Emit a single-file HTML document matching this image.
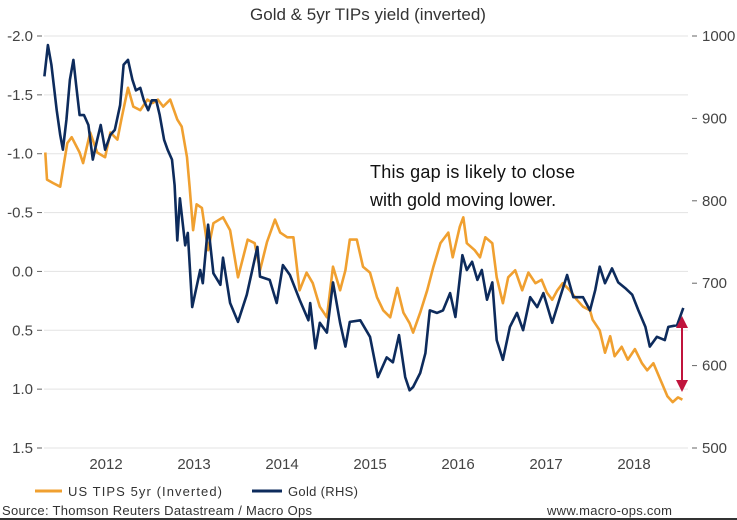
<!DOCTYPE html>
<html><head><meta charset="utf-8">
<style>
html,body{margin:0;padding:0;background:#fff;}
svg{display:block;font-family:"Liberation Sans",Arial,sans-serif;}
</style></head>
<body>
<svg id="chart" width="737" height="520" viewBox="0 0 737 520">
<text x="368" y="20" text-anchor="middle" font-size="17" fill="#333">Gold &amp; 5yr TIPs yield (inverted)</text>
<g id="grid"></g>
<g id="laxis"></g>
<g id="raxis"></g>
<g id="xaxis"></g>
<g id="series"></g>
<g>
<text x="370" y="178" font-size="18" fill="#111" textLength="205">This gap is likely to close</text>
<text x="370" y="206" font-size="18" fill="#111">with gold moving lower.</text>
</g>
<g>
<line x1="682" y1="326" x2="682" y2="384" stroke="#c0143c" stroke-width="2"/>
<polygon points="682,316 676,328 688,328" fill="#c0143c"/>
<polygon points="682,392 676,380 688,380" fill="#c0143c"/>
</g>
<g>
<line x1="35" y1="491" x2="62" y2="491" stroke="#f0a030" stroke-width="3"/>
<text x="68" y="496" font-size="13" fill="#333" textLength="154">US TIPS 5yr (Inverted)</text>
<line x1="252" y1="491" x2="282" y2="491" stroke="#0d2b5c" stroke-width="3"/>
<text x="288" y="496" font-size="13" fill="#333" textLength="70">Gold (RHS)</text>
</g>
<text x="2" y="515" font-size="13" fill="#333" textLength="310">Source: Thomson Reuters Datastream / Macro Ops</text>
<text x="547" y="515" font-size="13" fill="#333" textLength="125">www.macro-ops.com</text>
<rect x="0" y="518" width="737" height="2" fill="#333"/>
</svg>
<script>
const leftTicks = [-2.0,-1.5,-1.0,-0.5,0.0,0.5,1.0,1.5];
const leftTickLabels = ["-2.0","-1.5","-1.0","-0.5","0.0","0.5","1.0","1.5"];
const rightTicks = [1000,900,800,700,600,500];
const years = [2012,2013,2014,2015,2016,2017,2018];
const goldDates = [2011.30,2011.34,2011.38,2011.41,2011.44,2011.48,2011.51,2011.55,2011.59,2011.63,2011.66,2011.70,2011.75,2011.80,2011.85,2011.90,2011.94,2011.99,2012.05,2012.10,2012.16,2012.20,2012.25,2012.30,2012.34,2012.39,2012.43,2012.48,2012.52,2012.57,2012.61,2012.66,2012.70,2012.75,2012.78,2012.81,2012.84,2012.90,2012.93,2012.98,2013.07,2013.10,2013.16,2013.22,2013.30,2013.33,2013.41,2013.50,2013.60,2013.72,2013.75,2013.86,2013.94,2014.01,2014.09,2014.20,2014.30,2014.32,2014.38,2014.43,2014.51,2014.58,2014.66,2014.72,2014.77,2014.89,2015.00,2015.09,2015.19,2015.26,2015.33,2015.40,2015.45,2015.49,2015.57,2015.63,2015.68,2015.76,2015.83,2015.91,2015.97,2016.05,2016.10,2016.16,2016.22,2016.27,2016.33,2016.39,2016.44,2016.51,2016.59,2016.67,2016.74,2016.82,2016.90,2016.97,2017.07,2017.16,2017.24,2017.31,2017.42,2017.50,2017.56,2017.61,2017.67,2017.75,2017.82,2017.90,2017.98,2018.05,2018.13,2018.18,2018.26,2018.35,2018.39,2018.49,2018.56];
const goldValues = [951,989,965,937,910,880,862,898,947,971,941,904,904,892,850,874,892,862,880,886,916,965,971,947,934,937,922,910,922,922,904,874,862,850,819,752,803,746,761,671,716,700,771,712,698,731,676,653,686,744,708,704,676,722,710,680,655,676,621,652,640,701,652,623,653,655,635,586,610,604,637,586,570,574,591,615,667,664,667,688,659,734,716,726,704,716,680,701,631,607,647,664,643,683,671,688,652,683,710,683,683,667,692,720,700,718,701,694,686,667,647,623,635,631,647,649,670];
const tipsDates = [2011.31,2011.33,2011.40,2011.48,2011.56,2011.61,2011.70,2011.74,2011.82,2011.90,2011.99,2012.05,2012.13,2012.18,2012.25,2012.31,2012.39,2012.47,2012.53,2012.59,2012.65,2012.73,2012.81,2012.86,2012.92,2012.95,2012.99,2013.03,2013.09,2013.16,2013.22,2013.33,2013.41,2013.50,2013.61,2013.69,2013.75,2013.83,2013.92,2013.98,2014.06,2014.13,2014.20,2014.28,2014.35,2014.43,2014.51,2014.58,2014.66,2014.72,2014.77,2014.85,2014.92,2015.00,2015.08,2015.15,2015.23,2015.31,2015.38,2015.45,2015.49,2015.57,2015.65,2015.72,2015.80,2015.89,2015.94,2016.02,2016.06,2016.10,2016.19,2016.25,2016.31,2016.39,2016.44,2016.51,2016.57,2016.65,2016.73,2016.80,2016.88,2016.95,2017.01,2017.07,2017.13,2017.19,2017.27,2017.35,2017.42,2017.50,2017.53,2017.61,2017.67,2017.73,2017.78,2017.86,2017.93,2018.01,2018.09,2018.15,2018.22,2018.30,2018.38,2018.44,2018.50,2018.55];
const tipsValues = [-1.01,-0.78,-0.75,-0.72,-1.09,-1.14,-1.01,-0.92,-1.18,-1.01,-0.97,-1.18,-1.12,-1.31,-1.56,-1.40,-1.37,-1.46,-1.43,-1.46,-1.40,-1.46,-1.29,-1.23,-0.97,-0.72,-0.35,-0.57,-0.54,-0.18,-0.41,-0.46,-0.35,0.05,-0.27,-0.24,-0.01,-0.25,-0.44,-0.33,-0.29,-0.29,0.16,0.01,0.10,0.30,0.39,-0.04,0.16,-0.01,-0.27,-0.27,-0.04,0.01,0.22,0.33,0.39,0.14,0.35,0.44,0.52,0.35,0.16,-0.04,-0.24,-0.33,-0.12,-0.38,-0.46,-0.24,-0.18,-0.12,-0.29,-0.24,0.05,0.27,0.05,-0.01,0.16,0.01,0.10,0.07,0.18,0.24,0.16,0.10,0.16,0.24,0.30,0.33,0.41,0.50,0.69,0.55,0.72,0.64,0.75,0.66,0.78,0.84,0.78,0.92,1.06,1.11,1.07,1.09];

const NS="http://www.w3.org/2000/svg";
const X0=44,X1=688,TOP=36,BOT=448;
function xs(t){return 106+(t-2012)*88;}
function yl(v){return TOP+(v+2)/3.5*(BOT-TOP);}
function yr(g){return TOP+(1000-g)/500*(BOT-TOP);}
function mk(tag,attrs,parent){const e=document.createElementNS(NS,tag);for(const k in attrs)e.setAttribute(k,attrs[k]);parent.appendChild(e);return e;}
const grid=document.getElementById('grid'),la=document.getElementById('laxis'),ra=document.getElementById('raxis'),xa=document.getElementById('xaxis'),se=document.getElementById('series');
leftTicks.forEach((v,i)=>{
  const y=yl(v);
  const g=mk('line',{x1:X0,y1:y,x2:X1,y2:y,stroke:'#e3e3e3','stroke-width':1},grid);
  
  
  mk('line',{x1:37,y1:y,x2:42,y2:y,stroke:'#666','stroke-width':1},la);
  const t=mk('text',{x:33,y:y+5,'text-anchor':'end','font-size':15,fill:'#444'},la);
  t.textContent=leftTickLabels[i];
  
  
});
rightTicks.forEach(v=>{
  const y=yr(v);
  mk('line',{x1:692,y1:y,x2:697,y2:y,stroke:'#666','stroke-width':1},ra);
  const t=mk('text',{x:702,y:y+5,'font-size':15,fill:'#444'},ra);
  t.textContent=String(v);
  
  
});
years.forEach(yv=>{
  const t=mk('text',{x:xs(yv),y:469,'text-anchor':'middle','font-size':15,fill:'#444'},xa);
  t.textContent=String(yv);
  
  
});
function path(dates,vals,yf,color){
  let d='';
  dates.forEach((t,i)=>{d+=(i?'L':'M')+xs(t).toFixed(1)+','+yf(vals[i]).toFixed(1);});
  return mk('path',{d:d,fill:'none',stroke:color,'stroke-width':2.6,'stroke-linejoin':'round'},se);
}
const pT=path(tipsDates,tipsValues,yl,'#f0a030');


const pG=path(goldDates,goldValues,yr,'#0d2b5c');


</script>
</body></html>
